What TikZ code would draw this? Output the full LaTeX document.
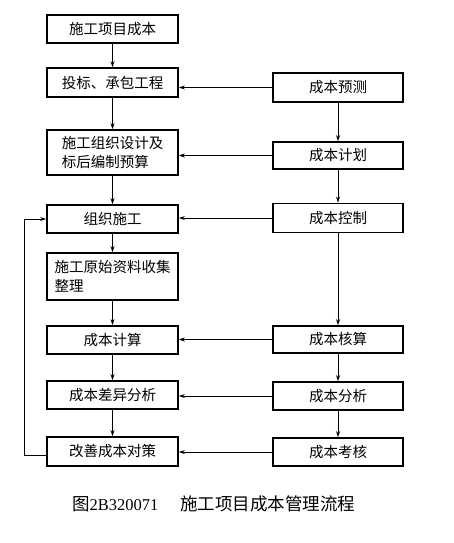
\documentclass[tikz,border=0pt]{standalone}
\usepackage{fontspec}
\setmainfont{Liberation Serif}
\newfontfamily\cjk{Noto Sans CJK SC}
\usetikzlibrary{arrows.meta}
\tikzset{
  box/.style={draw, line width=1.6pt, inner sep=0pt, align=left,
    font=\cjk\fontsize{14.5}{18.5}\selectfont},
  lbox/.style={box, minimum width=131pt},
  rbox/.style={box, minimum width=130pt},
  conn/.style={line width=0.8pt, -{Stealth[length=6pt,width=4pt]}}
}
\begin{document}
\begin{tikzpicture}[x=1pt,y=-1pt]
\useasboundingbox[fill=white] (0,0) rectangle (453,543);
% left column
\node[lbox, minimum height=28pt] (L1) at (112.5,29) {施工项目成本};
\node[lbox, minimum height=29pt] (L2) at (112.5,82.5) {投标、承包工程};
\node[lbox, minimum height=45pt] (L3) at (112.5,152.5) {施工组织设计及\\标后编制预算};
\node[lbox, minimum height=28pt] (L4) at (112.5,219) {组织施工};
\node[lbox, minimum height=47pt] (L5) at (112.5,276.5) {施工原始资料收集\\整理};
\node[lbox, minimum height=28pt] (L6) at (112.5,340) {成本计算};
\node[lbox, minimum height=28pt] (L7) at (112.5,395) {成本差异分析};
\node[lbox, minimum height=29pt] (L8) at (112.5,451.5) {改善成本对策};
% right column
\node[rbox, minimum height=29pt] (R1) at (338,87.5) {成本预测};
\node[rbox, minimum height=27pt] (R2) at (338,155.5) {成本计划};
\node[rbox, minimum height=29pt] (R3) at (338,218) {成本控制};
\node[rbox, minimum height=27pt] (R4) at (338,339.5) {成本核算};
\node[rbox, minimum height=28pt] (R5) at (338,396) {成本分析};
\node[rbox, minimum height=28pt] (R6) at (338,452) {成本考核};
% left vertical arrows
\draw[conn] (L1) -- (L2);
\draw[conn] (L2) -- (L3);
\draw[conn] (L3) -- (L4);
\draw[conn] (L4) -- (L5);
\draw[conn] (L5) -- (L6);
\draw[conn] (L6) -- (L7);
\draw[conn] (L7) -- (L8);
% right vertical arrows
\draw[conn] (R1) -- (R2);
\draw[conn] (R2) -- (R3);
\draw[conn] (R3) -- (R4);
\draw[conn] (R4) -- (R5);
\draw[conn] (R5) -- (R6);
% horizontal arrows
\draw[conn] (R1.west) -- (R1.west -| L2.east);
\draw[conn] (R2.west) -- (R2.west -| L3.east);
\draw[conn] (R3.west) -- (R3.west -| L4.east);
\draw[conn] (R4.west) -- (R4.west -| L6.east);
\draw[conn] (R5.west) -- (R5.west -| L7.east);
\draw[conn] (R6.west) -- (R6.west -| L8.east);
% feedback loop
\coordinate (fb) at (24,455);
\draw[conn] (fb -| L8.west) -- (fb) |- (L4.west);
% caption
\node[anchor=west, inner sep=0pt, font=\fontsize{16.5}{20}\selectfont] (cap) at (72,504)
  {{\cjk\fontsize{17.5}{20}\selectfont 图}2B320071\hspace{22pt}{\cjk\fontsize{17.5}{20}\selectfont 施工项目成本管理流程}};
\end{tikzpicture}
\end{document}
